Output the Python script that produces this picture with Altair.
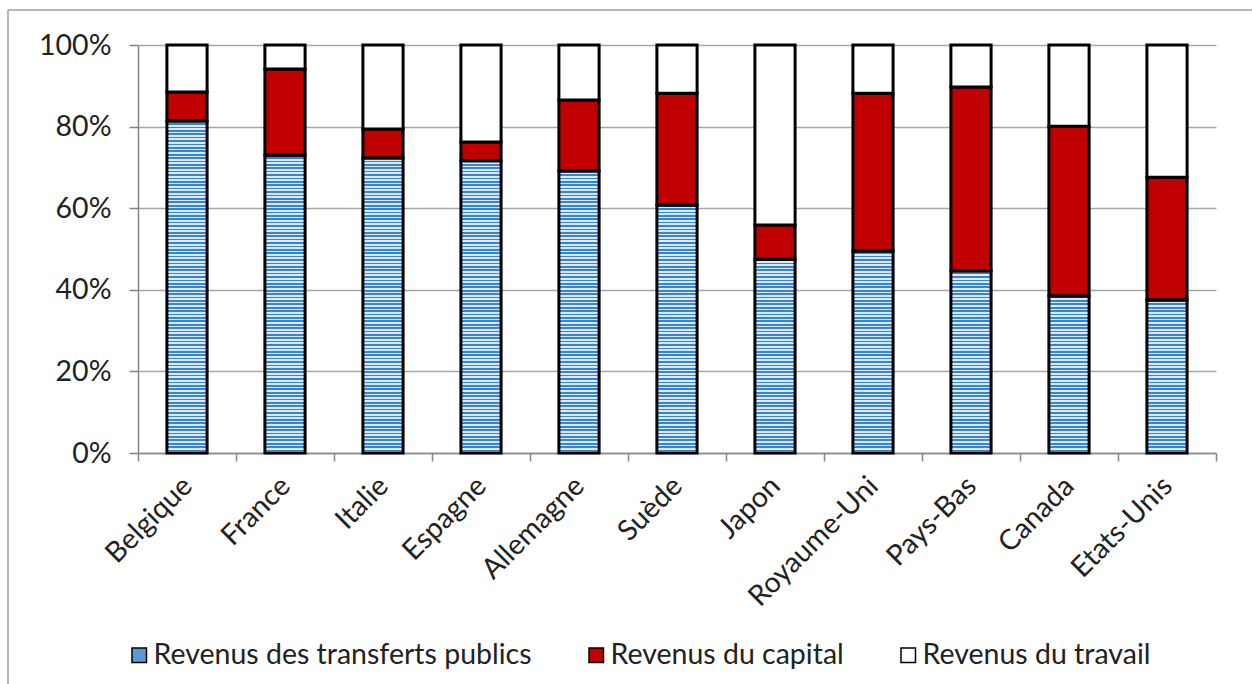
import altair as alt
import pandas as pd

countries = ["Belgique", "France", "Italie", "Espagne", "Allemagne", "Suède",
             "Japon", "Royaume-Uni", "Pays-Bas", "Canada", "Etats-Unis"]
transferts = [81.4, 73.0, 72.3, 71.6, 69.1, 60.8, 47.5, 49.5, 44.6, 38.5, 37.5]
capital = [7.1, 21.1, 7.1, 4.6, 17.4, 27.4, 8.4, 38.7, 45.1, 41.6, 30.1]
travail = [11.5, 5.9, 20.6, 23.8, 13.5, 11.8, 44.1, 11.8, 10.3, 19.9, 32.4]
series = ["Revenus des transferts publics", "Revenus du capital", "Revenus du travail"]
colors = ["#5B9BD5", "#C00000", "#FFFFFF"]
y_ticks = [0, 20, 40, 60, 80, 100]

rows = []
for i, c in enumerate(countries):
    start = 0.0
    for s, vals in zip(series, [transferts, capital, travail]):
        v = vals[i]
        rows.append({"pays": c, "serie": s, "start": start, "end": start + v})
        start += v
df = pd.DataFrame(rows)

FONT = "Lato"
FS = 28.5
W, H = 1078, 408
BLUE, LIGHT = "#3585D0", "#DCEAF8"
N = 120
stops = []
for i in range(N):
    a, b, e = i / N, (i + 0.5) / N, (i + 1) / N
    stops += [alt.GradientStop(offset=a, color=BLUE), alt.GradientStop(offset=b, color=BLUE),
              alt.GradientStop(offset=b, color=LIGHT), alt.GradientStop(offset=e, color=LIGHT)]
stripes = alt.LinearGradient(gradient="linear", stops=stops, x1=0, x2=0, y1=0, y2=1)

x_enc = alt.X("pays:N", sort=countries,
              scale=alt.Scale(paddingInner=0, paddingOuter=0),
              axis=alt.Axis(title=None, labelAngle=-45, labelAlign="right", labelBaseline="middle",
                            tickBand="extent", tickSize=8, tickColor="#868686", domainColor="#868686",
                            domainWidth=1.5, tickWidth=1.5,
                            labelFont=FONT, labelFontSize=FS, labelColor="#222222", labelPadding=20))
y_enc = alt.Y("end:Q", scale=alt.Scale(domain=[0, 100], nice=False),
              axis=alt.Axis(title=None, values=y_ticks, labelExpr="datum.value + '%'",
                            grid=True, gridColor="#A6A6A6", gridWidth=1.5,
                            tickSize=9, tickColor="#868686", tickWidth=1.5,
                            domainColor="#868686", domainWidth=1.5,
                            labelFont=FONT, labelFontSize=FS, labelColor="#222222", labelPadding=18))

bw = alt.RelativeBandSize(0.41)

stripe_layer = alt.Chart(df).transform_filter(
    alt.datum.serie == series[2]
).mark_bar(width=bw, fill=stripes).encode(
    x=x_enc, y=y_enc, y2=alt.Y2Datum(0)
)

color_layer = alt.Chart(df).transform_filter(
    alt.datum.serie != series[0]
).mark_bar(width=bw, stroke="black", strokeWidth=3).encode(
    x=x_enc, y=y_enc, y2="start:Q",
    fill=alt.Fill("serie:N", scale=alt.Scale(domain=series, range=colors),
                  legend=alt.Legend(title=None, orient="none", legendX=-13, legendY=596,
                                    direction="horizontal", gridAlign="none", columnPadding=50,
                                    symbolType="square", symbolSize=210, symbolStrokeColor="black",
                                    symbolStrokeWidth=1.5, symbolOpacity=1,
                                    labelFont=FONT, labelFontSize=FS, labelColor="#222222",
                                    labelOffset=0, labelLimit=700))
)

outline_layer = alt.Chart(df).transform_filter(
    alt.datum.serie == series[0]
).mark_bar(width=bw, stroke="black", strokeWidth=3, fillOpacity=0).encode(
    x=x_enc, y=y_enc, y2="start:Q"
)

one = pd.DataFrame({"k": [0]})
frame_top = alt.Chart(one).mark_rule(color="#A0A0A0", strokeWidth=1.5).encode(
    x=alt.value(-130), x2=alt.value(1130), y=alt.value(-35))
frame_left = alt.Chart(one).mark_rule(color="#A0A0A0", strokeWidth=1.5).encode(
    x=alt.value(-130), y=alt.value(-35), y2=alt.value(660))

chart = alt.layer(stripe_layer, color_layer, outline_layer, frame_top, frame_left).properties(
    width=W, height=H,
    autosize=alt.AutoSizeParams(type="none"),
    padding={"left": 138, "top": 45, "right": 1252 - 138 - W, "bottom": 684 - 45 - H},
    background="white",
).configure_view(stroke=None)

chart.save("out.html", embed_options={"renderer": "svg", "actions": False})
